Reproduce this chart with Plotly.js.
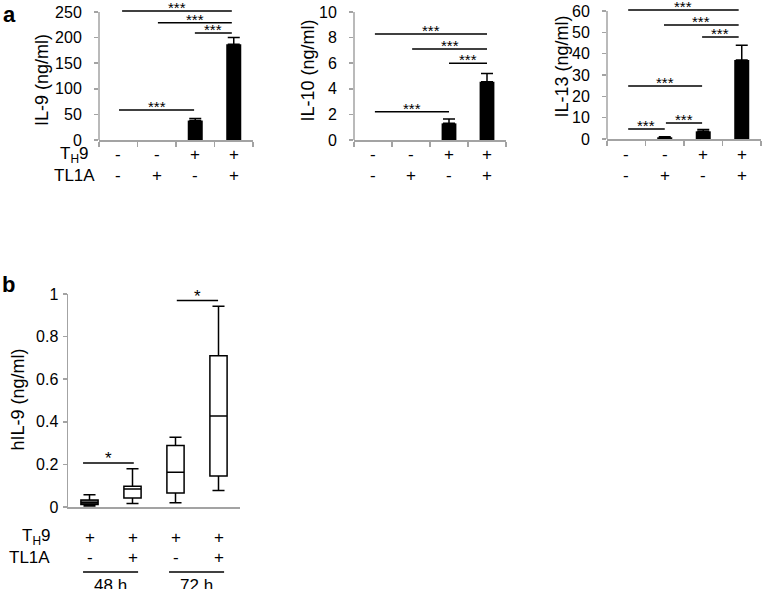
<!DOCTYPE html>
<html><head><meta charset="utf-8">
<script src="https://cdn.plot.ly/plotly-3.0.1.min.js"></script>
<style>html,body{margin:0;padding:0;background:#fff}#chart{width:762px;height:589px}</style>
</head><body><div id="chart"></div>
<script>
// ---------- data ----------
const catsA = ['c1','c2','c3','c4'];
const th9A = ['-','-','+','+'];
const tl1aA = ['-','+','-','+'];
const il9 = [0, 0, 38, 187];
const il9Err = [0, 0, 4, 13];
const il10 = [0, 0, 1.3, 4.55];
const il10Err = [0, 0, 0.35, 0.65];
const il13 = [0, 0.8, 3.6, 37];
const il13Err = [0, 0.3, 0.9, 7];
// significance comparisons: [from category index, to category index, y value]
const il9Sig = [[0.1, 2.95, 252], [1.03, 2.95, 229], [1.99, 2.95, 209], [0.02, 1.97, 58.5]];
const il10Sig = [[0.05, 3.0, 8.28], [1.03, 3.0, 7.1], [2.0, 3.0, 6.0], [0.05, 2.0, 2.2]];
const il13Sig = [[0.05, 2.92, 60.5], [0.98, 2.92, 53.4], [1.97, 2.92, 47.8], [0.05, 1.97, 24.8], [0.05, 1.0, 4.7], [1.03, 1.97, 7.5]];
const sigLabelA = '***';

const catsB = ['b1','b2','b3','b4'];
const th9B = ['+','+','+','+'];
const tl1aB = ['-','+','-','+'];
const boxMin = [0.005, 0.016, 0.02, 0.077];
const boxQ1  = [0.012, 0.042, 0.066, 0.146];
const boxMed = [0.02, 0.085, 0.163, 0.427];
const boxQ3  = [0.033, 0.097, 0.289, 0.71];
const boxMax = [0.057, 0.18, 0.327, 0.942];
const bSig = [[-0.15, 1.03, 0.207], [2.03, 2.99, 0.969]];
const sigLabelB = '*';
const timeGroups = [[-0.15, 1.13, '48 h'], [1.85, 3.13, '72 h']];

// ---------- style / layout ----------
const W = 762, H = 589;
const FONT = 'Liberation Sans, Arial, Helvetica, sans-serif';
const GRAY = '#a3a3a3';
const px = v => v / W;
const py = v => 1 - v / H;

const traces = [];
const shapes = [];
const annotations = [];
const layout = {
  width: W, height: H, margin: {l:0, r:0, t:0, b:0},
  paper_bgcolor: '#fff', plot_bgcolor: 'rgba(0,0,0,0)',
  showlegend: false, font: {family: FONT, size: 16, color: '#000'},
  boxmode: 'overlay', bargap: 0.6,
  shapes, annotations
};

function xAxisA(domain) {
  return {domain, type: 'category', categoryorder: 'array', categoryarray: catsA,
    range: [-0.5, 3.5], showline: true, linecolor: GRAY, linewidth: 1.5,
    ticks: 'outside', tickson: 'boundaries', ticklen: 5, tickwidth: 1.5, tickcolor: GRAY,
    showticklabels: false, showgrid: false, zeroline: false, fixedrange: true};
}

const panelsA = [
  {vals: il9, err: il9Err, sig: il9Sig, title: 'IL-9 (ng/ml)', xd: [99, 253], y0: 140, ytop: 250, tick: 50, pxTop: 12, titleX: 42, titleY: 80},
  {vals: il10, err: il10Err, sig: il10Sig, title: 'IL-10 (ng/ml)', xd: [354, 506], y0: 140, ytop: 10, tick: 2, pxTop: 12, titleX: 307.5, titleY: 71},
  {vals: il13, err: il13Err, sig: il13Sig, title: 'IL-13 (ng/ml)', xd: [607, 761], y0: 139, ytop: 60, tick: 10, pxTop: 11, titleX: 561.5, titleY: 67},
];

panelsA.forEach((p, i) => {
  const n = i + 1;
  const xa = 'x' + (n === 1 ? '' : n), ya = 'y' + (n === 1 ? '' : n);
  const xKey = 'xaxis' + (n === 1 ? '' : n), yKey = 'yaxis' + (n === 1 ? '' : n);
  const scale = (p.y0 - p.pxTop) / p.ytop; // px per unit
  const rangeTop = p.y0 / scale;
  const tv = [];
  for (let v = 0; v <= p.ytop + 1e-9; v += p.tick) tv.push(+v.toFixed(4));
  layout[xKey] = Object.assign(xAxisA([px(p.xd[0]), px(p.xd[1])]), {anchor: ya});
  layout[yKey] = {domain: [py(p.y0), 1], anchor: xa, range: [0, rangeTop],
    showline: false, showgrid: false, zeroline: false,
    ticks: 'outside', ticklen: 4, tickwidth: 1.5, tickcolor: GRAY,
    tickvals: tv, ticklabelstandoff: 9, tickfont: {size: 16, family: FONT, color: '#000'}, fixedrange: true};
  // y axis line up to the top tick
  shapes.push({type: 'line', xref: xa + ' domain', yref: ya, x0: 0, x1: 0, y0: 0, y1: p.ytop,
    line: {color: GRAY, width: 1.5}});
  traces.push({type: 'bar', x: catsA, y: p.vals.map(v => v > 0 ? v : null), xaxis: xa, yaxis: ya, width: 0.39,
    marker: {color: '#000', line: {width: 0}},
    error_y: {type: 'data', symmetric: false, array: p.err.map(e => e > 0 ? e : NaN),
      arrayminus: p.err.map(e => e > 0 ? 0 : NaN), color: '#000', thickness: 1.5, width: 6},
    hoverinfo: 'skip'});
  p.sig.forEach(s => {
    shapes.push({type: 'line', xref: xa, yref: ya, x0: s[0], x1: s[1], y0: s[2], y1: s[2],
      line: {color: '#000', width: 1.5}});
    annotations.push({xref: xa, yref: ya, x: (s[0] + s[1]) / 2, y: s[2], text: sigLabelA,
      showarrow: false, yanchor: 'bottom', yshift: -7, font: {size: 15, family: FONT, color: '#000'}});
  });
  // +/- rows
  catsA.forEach((c, k) => {
    annotations.push({xref: xa, yref: 'paper', x: k, y: py(155), text: th9A[k], showarrow: false,
      xanchor: 'center', yanchor: 'middle', font: {size: 17, family: FONT, color: '#000'}});
    annotations.push({xref: xa, yref: 'paper', x: k, y: py(176), text: tl1aA[k], showarrow: false,
      xanchor: 'center', yanchor: 'middle', font: {size: 17, family: FONT, color: '#000'}});
  });
  annotations.push({xref: 'paper', yref: 'paper', x: px(p.titleX), y: py(p.titleY), text: p.title,
    textangle: -90, showarrow: false, xanchor: 'center', yanchor: 'middle',
    font: {size: 18, family: FONT, color: '#000'}});
});

annotations.push({xref: 'paper', yref: 'paper', x: px(74), y: py(155), text: 'T<sub>H</sub>9', showarrow: false,
  xanchor: 'center', yanchor: 'middle', font: {size: 17, family: FONT, color: '#000'}});
annotations.push({xref: 'paper', yref: 'paper', x: px(74), y: py(176), text: 'TL1A', showarrow: false,
  xanchor: 'center', yanchor: 'middle', font: {size: 17, family: FONT, color: '#000'}});
annotations.push({xref: 'paper', yref: 'paper', x: px(1), y: py(0), text: '<b>a</b>', showarrow: false,
  xanchor: 'left', yanchor: 'top', font: {size: 22, family: FONT, color: '#000'}});

// ---------- panel b ----------
layout.xaxis4 = {domain: [px(68), px(240)], anchor: 'y4', type: 'category', categoryorder: 'array',
  categoryarray: catsB, range: [-0.5, 3.5], showline: true, linecolor: GRAY, linewidth: 1.5,
  ticks: '', showticklabels: false, showgrid: false, zeroline: false, fixedrange: true};
layout.yaxis4 = {domain: [py(507), py(294)], anchor: 'x4', range: [0, 1], showline: true,
  linecolor: GRAY, linewidth: 1.5, showgrid: false, zeroline: false,
  ticks: 'outside', ticklen: 4, tickwidth: 1.5, tickcolor: GRAY,
  tickvals: [0, 0.2, 0.4, 0.6, 0.8, 1], ticklabelstandoff: 1,
  tickfont: {size: 16, family: FONT, color: '#000'}, fixedrange: true};

catsB.forEach((c, k) => {
  traces.push({type: 'box', x: [c], q1: [boxQ1[k]], median: [boxMed[k]], q3: [boxQ3[k]],
    lowerfence: [boxMin[k]], upperfence: [boxMax[k]], xaxis: 'x4', yaxis: 'y4',
    fillcolor: k === 0 ? '#555' : '#fff', line: {color: '#000', width: 1.5},
    whiskerwidth: 0.7, width: 0.4, boxpoints: false, hoverinfo: 'skip'});
  annotations.push({xref: 'x4', yref: 'paper', x: k, y: py(537), text: th9B[k], showarrow: false,
    xanchor: 'center', yanchor: 'middle', font: {size: 17, family: FONT, color: '#000'}});
  annotations.push({xref: 'x4', yref: 'paper', x: k, y: py(557), text: tl1aB[k], showarrow: false,
    xanchor: 'center', yanchor: 'middle', font: {size: 17, family: FONT, color: '#000'}});
});
bSig.forEach(s => {
  shapes.push({type: 'line', xref: 'x4', yref: 'y4', x0: s[0], x1: s[1], y0: s[2], y1: s[2],
    line: {color: '#000', width: 1.5}});
  annotations.push({xref: 'x4', yref: 'y4', x: (s[0] + s[1]) / 2, y: s[2], text: sigLabelB,
    showarrow: false, yanchor: 'bottom', yshift: -7, font: {size: 17, family: FONT, color: '#000'}});
});
timeGroups.forEach(g => {
  shapes.push({type: 'line', xref: 'x4', yref: 'paper', x0: g[0], x1: g[1], y0: py(572), y1: py(572),
    line: {color: '#000', width: 1.5}});
  annotations.push({xref: 'x4', yref: 'paper', x: (g[0] + g[1]) / 2, y: py(574), text: g[2], showarrow: false,
    xanchor: 'center', yanchor: 'top', font: {size: 17, family: FONT, color: '#000'}});
});
annotations.push({xref: 'paper', yref: 'paper', x: px(52), y: py(537), text: 'T<sub>H</sub>9', showarrow: false,
  xanchor: 'right', yanchor: 'middle', font: {size: 17, family: FONT, color: '#000'}});
annotations.push({xref: 'paper', yref: 'paper', x: px(52), y: py(557), text: 'TL1A', showarrow: false,
  xanchor: 'right', yanchor: 'middle', font: {size: 17, family: FONT, color: '#000'}});
annotations.push({xref: 'paper', yref: 'paper', x: px(17.5), y: py(400), text: 'hIL-9 (ng/ml)',
  textangle: -90, showarrow: false, xanchor: 'center', yanchor: 'middle',
  font: {size: 18, family: FONT, color: '#000'}});
annotations.push({xref: 'paper', yref: 'paper', x: px(0), y: py(270), text: '<b>b</b>', showarrow: false,
  xanchor: 'left', yanchor: 'top', font: {size: 22, family: FONT, color: '#000'}});

Plotly.newPlot('chart', traces, layout, {staticPlot: true, displayModeBar: false});
</script></body></html>
